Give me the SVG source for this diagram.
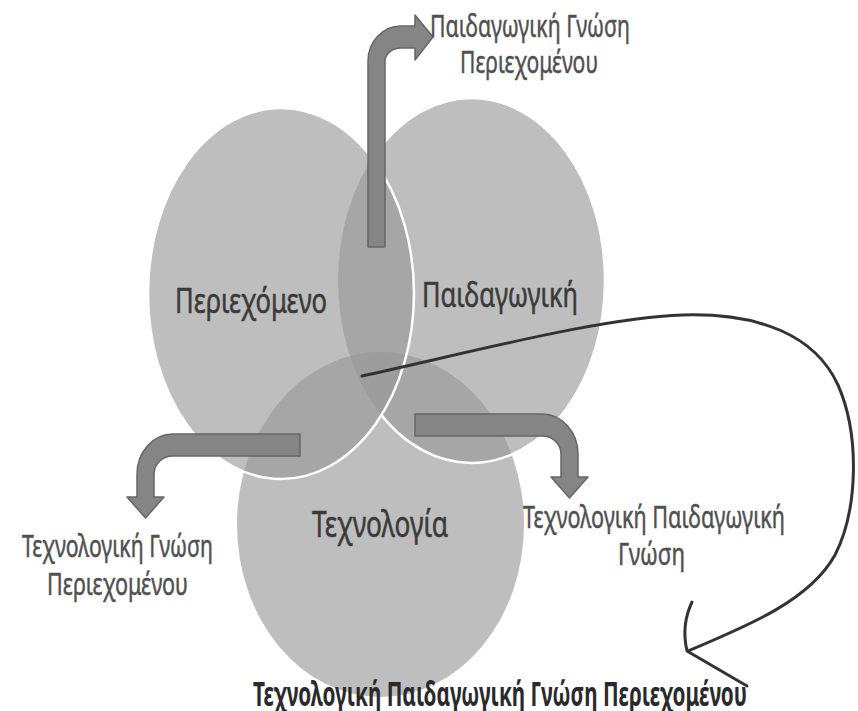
<svg xmlns="http://www.w3.org/2000/svg" width="858" height="711" viewBox="0 0 858 711">
<style>
.c{fill:#989898;fill-opacity:0.63;}
.ws{fill:none;stroke:#ffffff;stroke-width:2.5;}
.lbl{font-family:"Noto Sans","Open Sans","DejaVu Sans",sans-serif;fill:#3a3a3a;stroke:#3a3a3a;stroke-width:0.4;text-anchor:middle;}
.out{font-family:"Noto Sans","Open Sans","DejaVu Sans",sans-serif;fill:#505050;stroke:#505050;stroke-width:0.35;text-anchor:middle;}
.bold{font-family:"Noto Sans","Open Sans","DejaVu Sans",sans-serif;fill:#2a2a2a;text-anchor:middle;font-weight:bold;}
.ba{fill:#858585;stroke:#666666;stroke-width:1.5;stroke-linejoin:round;}
.cur{fill:none;stroke:#333333;stroke-width:3;stroke-linecap:round;stroke-linejoin:round;}
</style>
<defs>
<mask id="notLeft">
<rect x="0" y="0" width="858" height="711" fill="#fff"/>
<ellipse cx="281" cy="293.5" rx="133" ry="185.5" fill="#000"/>
</mask>
</defs>
<rect x="0" y="0" width="858" height="711" fill="#ffffff"/>
<g id="technology">
<ellipse class="c" cx="380.5" cy="524.5" rx="143.5" ry="172.5"/>
<text class="lbl" transform="translate(380,537) scale(1,1.38)" font-size="26.8" textLength="136" lengthAdjust="spacingAndGlyphs">Τεχνολογία</text>
</g>
<g id="pedagogy">
<ellipse class="c" cx="471.5" cy="280.5" rx="133.5" ry="182.5"/>
<ellipse class="ws" cx="471.5" cy="280.5" rx="133.5" ry="182.5" mask="url(#notLeft)"/>
<text class="lbl" transform="translate(500,307) scale(1,1.38)" font-size="25.4" textLength="156" lengthAdjust="spacingAndGlyphs">Παιδαγωγική</text>
</g>
<g id="content">
<ellipse class="c" cx="281" cy="293.5" rx="133" ry="185.5"/>
<ellipse class="ws" cx="281" cy="293.5" rx="133" ry="185.5"/>
<text class="lbl" transform="translate(251,313) scale(1,1.38)" font-size="25.4" textLength="152" lengthAdjust="spacingAndGlyphs">Περιεχόμενο</text>
</g>
<g id="connectors">
<path class="ba" d="M368,247 L368,61 A33,35 0 0 1 401,26 L415,26 L415,15 L433,37 L415,60 L415,48 L401,48 A16,13 0 0 0 385,61 L385,247 Z"/>
<path class="ba" d="M300,434 L173,434 A36,40 0 0 0 137,474 L137,497 L127,497 L145.5,518 L164,497 L154,497 L154,474 A19,18 0 0 1 173,456 L300,456 Z"/>
<path class="ba" d="M415,414 L542,414 A36,40 0 0 1 578,454 L578,477 L588,477 L569.5,498 L551,477 L561,477 L561,454 A19,18 0 0 0 542,436 L415,436 Z"/>
<path class="cur" d="M362,376 C480,350 600,318 683,315 C760,313 815,335 838,385 C860,435 858,510 835,555 C810,600 750,625 688,651"/>
<path class="cur" d="M692,602 Q681,625 687,651 L747,686"/>
</g>
<g id="pck-label">
<text class="out" transform="translate(530,37) scale(1,1.38)" font-size="22.5" textLength="200" lengthAdjust="spacingAndGlyphs">Παιδαγωγική Γνώση</text>
<text class="out" transform="translate(529,73) scale(1,1.38)" font-size="22.5" textLength="138" lengthAdjust="spacingAndGlyphs">Περιεχομένου</text>
</g>
<g id="tck-label">
<text class="out" transform="translate(117.5,557) scale(1,1.38)" font-size="21.8" textLength="191" lengthAdjust="spacingAndGlyphs">Τεχνολογική Γνώση</text>
<text class="out" transform="translate(117.5,595) scale(1,1.38)" font-size="21.8" textLength="141" lengthAdjust="spacingAndGlyphs">Περιεχομένου</text>
</g>
<g id="tpk-label">
<text class="out" transform="translate(654,528) scale(1,1.38)" font-size="22.5" textLength="262" lengthAdjust="spacingAndGlyphs">Τεχνολογική Παιδαγωγική</text>
<text class="out" transform="translate(651.5,565) scale(1,1.38)" font-size="22.5" textLength="67" lengthAdjust="spacingAndGlyphs">Γνώση</text>
</g>
<g id="tpack-label">
<text class="bold" transform="translate(500,706) scale(1,1.38)" font-size="24" textLength="494" lengthAdjust="spacingAndGlyphs">Τεχνολογική Παιδαγωγική Γνώση Περιεχομένου</text>
</g>
</svg>
